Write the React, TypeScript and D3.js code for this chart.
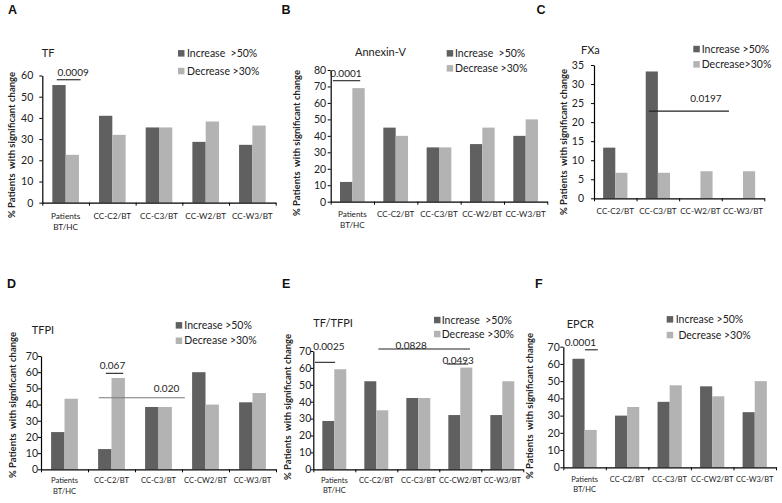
import React, { useEffect, useRef } from "react";
import * as d3 from "d3";

// categories on the x axes
const categoriesAB = ["Patients\nBT/HC", "CC-C2/BT", "CC-C3/BT", "CC-W2/BT", "CC-W3/BT"];
const categoriesC = ["CC-C2/BT", "CC-C3/BT", "CC-W2/BT", "CC-W3/BT"];
const categoriesDEF = ["Patients\nBT/HC", "CC-C2/BT", "CC-C3/BT", "CC-CW2/BT", "CC-W3/BT"];

// % patients with significant change (increase >50% / decrease >30%)
const tfIncrease = [55.5, 41, 35.5, 28.7, 27.3];
const tfDecrease = [22.6, 32, 35.5, 38.3, 36.4];
const annexinIncrease = [12, 45, 33, 35, 40];
const annexinDecrease = [69, 40, 33, 45, 50];
const fxaIncrease = [13.3, 33.3, 0, 0];
const fxaDecrease = [6.7, 6.7, 7.1, 7.1];
const tfpiIncrease = [23, 12.5, 38.5, 60, 41.4];
const tfpiDecrease = [43.6, 56.4, 38.5, 40, 47.1];
const tfTfpiIncrease = [28.6, 52.1, 42.2, 32.1, 32.1];
const tfTfpiDecrease = [59.2, 34.9, 42.2, 60.2, 52.1];
const epcrIncrease = [63, 30, 38, 47, 32];
const epcrDecrease = [21.7, 35, 47.6, 41.2, 50];

// y tick values
const ticks60 = [0, 10, 20, 30, 40, 50, 60];
const ticks80 = [0, 10, 20, 30, 40, 50, 60, 70, 80];
const ticks35 = [0, 5, 10, 15, 20, 25, 30, 35];
const ticks70 = [0, 10, 20, 30, 40, 50, 60, 70];

// p-value brackets: x in category units, y in % units
const tfNotes = [{ label: "0.0009", from: 0.31, to: 0.82, at: 58, textX: 0.66, textAt: 59.6, gray: false }];
const annexinNotes = [{ label: "0.0001", from: 0.05, to: 0.68, at: 73.5, textX: 0.35, textAt: 75.6, gray: false }];
const fxaNotes = [{ label: "0.0197", from: 1.29, to: 3.17, at: 22.9, textX: 2.63, textAt: 25.3, gray: false }];
const tfpiNotes = [
  { label: "0.067", from: 1.38, to: 1.75, at: 59.3, textX: 1.52, textAt: 62, gray: false },
  { label: "0.020", from: 1.23, to: 3.06, at: 44.2, textX: 2.67, textAt: 47.5, gray: true },
];
const tfTfpiNotes = [
  { label: "0.0025", from: 0.04, to: 0.52, at: 63.3, textX: 0.37, textAt: 70.4, gray: false },
  { label: "0.0828", from: 1.55, to: 3.73, at: 71.2, textX: 2.33, textAt: 71.4, gray: false },
  { label: "0.0493", from: 3.18, to: 3.69, at: 62.3, textX: 3.45, textAt: 62.6, gray: false },
];
const epcrNotes = [{ label: "0.0001", from: 0.51, to: 0.81, at: 68.2, textX: 0.4, textAt: 70.4, gray: false }];

const DARK = "#606060";
const LIGHT = "#b3b3b3";
const FONT = "Lato, 'Open Sans', sans-serif";

const panels = [
  {
    letter: "A", title: "TF", categories: categoriesAB, increase: tfIncrease, decrease: tfDecrease,
    yTicks: ticks60, notes: tfNotes, legend: ["Increase  >50%", "Decrease >30%"],
    box: { left: 42.3, right: 275.7, top: 75.5, bottom: 202.7, gap: 9, catOff: 13.3, catSize: 8.2 },
    letterPos: [8, 14], titlePos: [41.7, 53.3], yTitleX: 12, yTitleY: 145,
    legendPos: { sq: 178, text: 187, y1: 53.3, y2: 71 },
  },
  {
    letter: "B", title: "Annexin-V", categories: categoriesAB, increase: annexinIncrease, decrease: annexinDecrease,
    yTicks: ticks80, notes: annexinNotes, legend: ["Increase  >50%", "Decrease >30%"],
    box: { left: 330.7, right: 547.3, top: 70, bottom: 201.7, gap: 4.5, catOff: 12.6, catSize: 8.1 },
    letterPos: [281.5, 14], titlePos: [355, 51.7], yTitleX: 296.7, yTitleY: 143,
    legendPos: { sq: 446.7, text: 455, y1: 53.3, y2: 68.3 },
  },
  {
    letter: "C", title: "FXa", categories: categoriesC, increase: fxaIncrease, decrease: fxaDecrease,
    yTicks: ticks35, notes: fxaNotes, legend: ["Increase >50%", "Decrease>30%"],
    box: { left: 594, right: 764.3, top: 65, bottom: 198.3, gap: 10, catOff: 12.4, catSize: 8.1 },
    letterPos: [536.5, 14], titlePos: [581, 50], yTitleX: 564, yTitleY: 142,
    legendPos: { sq: 693.3, text: 701.7, y1: 49, y2: 64.3 },
  },
  {
    letter: "D", title: "TFPI", categories: categoriesDEF, increase: tfpiIncrease, decrease: tfpiDecrease,
    yTicks: ticks70, notes: tfpiNotes, legend: ["Increase >50%", "Decrease >30%"],
    box: { left: 41, right: 276, top: 356, bottom: 469.3, gap: 3, catOff: 11.4, catSize: 7.6 },
    letterPos: [7, 288], titlePos: [31.7, 330], yTitleX: 12.5, yTitleY: 405,
    legendPos: { sq: 175.7, text: 184.3, y1: 325.3, y2: 340.7 },
  },
  {
    letter: "E", title: "TF/TFPI", categories: categoriesDEF, increase: tfTfpiIncrease, decrease: tfTfpiDecrease,
    yTicks: ticks70, notes: tfTfpiNotes, legend: ["Increase  >50%", "Decrease >30%"],
    box: { left: 313.3, right: 523.3, top: 351, bottom: 469.3, gap: 2, catOff: 10.7, catSize: 7.5 },
    letterPos: [282, 288], titlePos: [313.3, 323.3], yTitleX: 287.5, yTitleY: 407,
    legendPos: { sq: 434, text: 441.7, y1: 320, y2: 334 },
  },
  {
    letter: "F", title: "EPCR", categories: categoriesDEF, increase: epcrIncrease, decrease: epcrDecrease,
    yTicks: ticks70, notes: epcrNotes, legend: ["Increase >50%", " Decrease >30%"],
    box: { left: 563.3, right: 776, top: 346.7, bottom: 467.3, gap: 3.5, catOff: 11.7, catSize: 7.5 },
    letterPos: [535, 288], titlePos: [566.7, 324], yTitleX: 530, yTitleY: 406,
    legendPos: { sq: 666.7, text: 675.7, y1: 319.3, y2: 335 },
  },
];

type PanelSpec = (typeof panels)[number];

const Panel = ({ spec }: { spec: PanelSpec }) => {
  const ref = useRef<SVGGElement>(null);

  useEffect(() => {
    const g = d3.select(ref.current);
    g.selectAll("*").remove();
    const { box } = spec;
    const n = spec.categories.length;

    const x = d3.scaleBand().domain(spec.categories).range([box.left, box.right])
      .paddingInner(0.43).paddingOuter(0.215);
    const sub = d3.scaleBand().domain(["inc", "dec"]).range([0, x.bandwidth()]);
    const y = d3.scaleLinear().domain([0, d3.max(spec.yTicks) as number]).range([box.bottom, box.top]);
    const idx = d3.scaleLinear().domain([0, n]).range([box.left, box.right]);

    // bars
    const rows = spec.categories.map((c, i) => ({ c, inc: spec.increase[i], dec: spec.decrease[i] }));
    const groups = g.selectAll(".grp").data(rows).join("g")
      .attr("transform", (d) => `translate(${x(d.c)},0)`);
    groups.append("rect").attr("x", sub("inc")!).attr("width", sub.bandwidth())
      .attr("y", (d) => y(d.inc)).attr("height", (d) => y(0) - y(d.inc)).attr("fill", DARK);
    groups.append("rect").attr("x", sub("dec")!).attr("width", sub.bandwidth())
      .attr("y", (d) => y(d.dec)).attr("height", (d) => y(0) - y(d.dec)).attr("fill", LIGHT);

    // y axis
    const yAxis = g.append("g").attr("transform", `translate(${box.left},0)`)
      .call(d3.axisLeft(y).tickValues(spec.yTicks).tickSize(3).tickSizeOuter(0).tickPadding(box.gap - 3));
    yAxis.select(".domain").attr("stroke", "#000").attr("stroke-width", 1.2);
    yAxis.selectAll(".tick line").attr("stroke", "#000");
    yAxis.selectAll(".tick text").attr("font-family", FONT).attr("font-size", 10.5).attr("fill", "#222");

    // x axis with ticks between categories
    const xAxis = g.append("g").attr("transform", `translate(0,${box.bottom})`)
      .call(d3.axisBottom(idx).tickValues(d3.range(n + 1)).tickFormat(() => "").tickSize(3).tickSizeOuter(0));
    xAxis.select(".domain").attr("stroke", "#000").attr("stroke-width", 1.2);
    xAxis.selectAll(".tick line").attr("stroke", "#000");

    // category labels
    const labels = g.selectAll(".cat").data(spec.categories).join("text")
      .attr("x", (d) => x(d)! + x.bandwidth() / 2)
      .attr("y", box.bottom + box.catOff)
      .attr("text-anchor", "middle")
      .attr("font-family", FONT).attr("font-size", box.catSize).attr("fill", "#222");
    labels.each(function (d) {
      const t = d3.select(this);
      d.split("\n").forEach((line, i) => {
        t.append("tspan").attr("x", x(d)! + x.bandwidth() / 2).attr("dy", i === 0 ? "0.35em" : "1.4em").text(line);
      });
    });

    // p-value brackets
    spec.notes.forEach((nt) => {
      g.append("line").attr("x1", idx(nt.from)).attr("x2", idx(nt.to))
        .attr("y1", y(nt.at)).attr("y2", y(nt.at))
        .attr("stroke", nt.gray ? "#7a7a7a" : "#222").attr("stroke-width", 1.1);
      g.append("text").attr("x", idx(nt.textX)).attr("y", y(nt.textAt))
        .attr("text-anchor", "middle").attr("font-family", FONT).attr("font-size", 10)
        .attr("fill", "#222").text(nt.label);
    });

    // title
    g.append("text").attr("x", spec.titlePos[0]).attr("y", spec.titlePos[1]).attr("dy", "0.35em")
      .attr("font-family", FONT).attr("font-size", 11).attr("fill", "#222").text(spec.title);

    // panel letter
    g.append("text").attr("x", spec.letterPos[0]).attr("y", spec.letterPos[1])
      .attr("font-family", "'Liberation Sans', Arial, sans-serif").attr("font-weight", "bold")
      .attr("font-size", 12.5).attr("fill", "#111").text(spec.letter);

    // y axis title
    g.append("text")
      .attr("transform", `translate(${spec.yTitleX},${spec.yTitleY}) rotate(-90)`)
      .attr("dy", "0.35em").attr("text-anchor", "middle")
      .attr("font-family", FONT).attr("font-weight", "bold").attr("font-size", 9.5)
      .attr("fill", "#222")
      .style("white-space", "pre")
      .text("% Patients  with significant change");

    // legend
    const lp = spec.legendPos;
    [DARK, LIGHT].forEach((col, i) => {
      const cy = i === 0 ? lp.y1 : lp.y2;
      g.append("rect").attr("x", lp.sq).attr("y", cy - 3.2).attr("width", 6.5).attr("height", 6.5).attr("fill", col);
      g.append("text").attr("x", lp.text).attr("y", cy).attr("dy", "0.35em")
        .attr("font-family", FONT).attr("font-size", 10.5).attr("fill", "#222")
        .style("white-space", "pre").text(spec.legend[i]);
    });
  }, [spec]);

  return <g ref={ref} />;
};

export default function App() {
  return (
    <svg width={782} height={503} style={{ position: "absolute", left: 0, top: 0, background: "#fff" }}>
      <rect width={782} height={503} fill="#fff" />
      {panels.map((p) => (
        <Panel key={p.letter} spec={p} />
      ))}
    </svg>
  );
}
